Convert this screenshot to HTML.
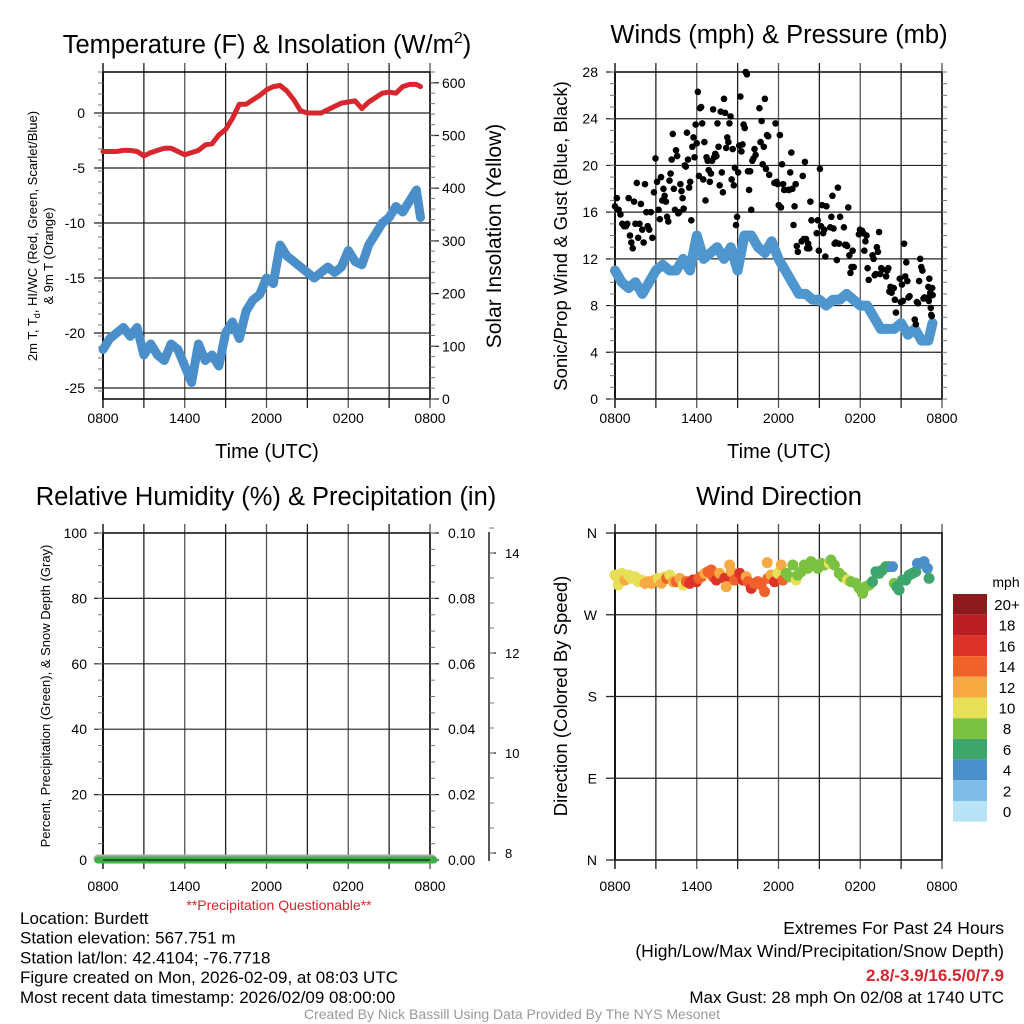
<!DOCTYPE html>
<html><head><meta charset="utf-8"><style>
body{margin:0;background:#fff}
svg{display:block;font-family:"Liberation Sans",Arial,sans-serif}
</style></head><body>
<svg id="c" width="1024" height="1024" viewBox="0 0 1024 1024" xmlns="http://www.w3.org/2000/svg"></svg>
<script>
// ---------- data ----------
const tempHours=[0,0.5,1,1.5,2,2.5,3,3.5,4,4.5,5,5.5,6,6.5,7,7.5,8,8.5,9,9.5,10,10.5,11,11.5,12,12.5,13,13.5,14,14.5,15,15.5,16,16.5,17,17.5,18,18.5,19,19.5,20,20.5,21,21.5,22,22.5,23,23.3];
const tempValues=[-3.5,-3.5,-3.5,-3.4,-3.4,-3.5,-3.9,-3.6,-3.4,-3.2,-3.2,-3.5,-3.8,-3.6,-3.4,-2.9,-2.8,-2.0,-1.5,-0.5,0.8,0.8,1.2,1.6,2.1,2.4,2.5,2.0,1.2,0.2,0,0,0,0.3,0.6,0.9,1.0,1.1,0.4,1.0,1.4,1.8,1.9,1.8,2.4,2.6,2.6,2.4];
const dewValues=[-21.5,-20.5,-20,-19.5,-20.3,-19.5,-22,-21,-22,-22.5,-21,-21.5,-23,-24.5,-21,-22.5,-22,-23,-20,-19,-20.5,-18,-17,-16.5,-15,-15.5,-12,-13,-13.5,-14,-14.5,-15,-14.5,-14,-14.5,-14,-12.5,-13.5,-13.8,-12,-11,-10,-9.5,-8.5,-9,-8,-7,-9.5];
const windHours=tempHours;
const windSpeed=[11,10,9.5,10,9,10,11,11.5,11,11,12,11,14,12,12.5,13,12,13,11,14,14,13,12.5,13.5,12,11,10,9,9,8.5,8.5,8,8.5,8.5,9,8.5,8,8,7,6,6,6,6.5,5.5,6,5,5,6.5];
const gustClusterStart=[0,0.8,1.6,2.4,3.2,4.0,4.8,5.6,6.4,7.2,8.0,8.8,9.6,10.6,11.7,12.7,13.7,14.8,15.8,16.8,17.9,18.9,19.9,20.9,22.0,23.0];
const gustClusterValues=[
[16.5,17.2,16.2,15.8,15,14.8],
[14.8,15,17.2,14,13.4,12.9,16.9,15],
[18.5,13.8,15,16.7,14.5,13.4,18.4,16],
[14.8,14.5,16,13.8,17.7,20.6,18.6],
[16.2,15.4,19,17,18,17.4,16.9,15.6,15.2],
[18.7,19.3,20.5,22.7,18,16.2,21.3,20.8,15.9,16],
[18.4,17.8,17.2,16.3,20,19.9,22.8,20.5,18.1,18.6],
[15.3,21.6,22.4,20.7,23.5,21.9,26.3,19.1,24.9,25],
[23.6,18.8,22,17,20.7,20.4,19.6,18.6,19.3,20.4],
[24.8,20.7,21,20.8,23.6,21.6,18.3,24.6,19.4,17.7],
[25.7,24.5,21.5,22.4,22,23.6,24.2,18.8,21.4,18.3],
[19.8,14.9,15.6,19.4,21.7,25.9,21.2,21.8,23.5,23.2],
[28,27.8,19.5,17.9,19.5,16.2,20.4,20.6,21.4,20.9],
[24.9,22,23.8,20.1,21.6,25.7,19.7,22.6,22.5,19.2],
[18.5,23.6,18.6,18.4,16.6,22.6,16.4,20.1,18.4,17.9],
[17.9,17.9,19.4,21.1,18.0,14.9,16.5,18.4,13.1,12.6],
[13.5,19.1,13.7,20.3,13.7,12.9,13.3,12.9,16.9,15.3],
[14.2,15.3,12.7,19.7,14.8,16.6,14.2,14.5,12.2,16.5],
[14.7,15.6,17.4,14.6,13.3,13.4,11.9,18.1,13.3,15.6],
[14.7,13.2,13.2,13.1,16.4,12.3,10.8,11.3,12.7,11.3],
[14.1,14.5,14.3,14.4,14.2,12.7,13.5,14.0,11.2,10.2],
[12.3,12.0,10.6,10.7,13.0,12.6,14.3,10.7,11.2,11.1],
[10.5,11.0,11.2,9.2,9.6,9.1,9.5,9.5,8.5,7.4],
[10.3,8.3,9.8,8.4,13.3,10.5,11.7,10.1,8.7,8.8],
[6.8,6.4,8.3,8.2,10.1,12.0,11.3,11.0,8.6,8.7],
[9.6,8.4,10.3,8.8,9.1,7.8,7.2,7.1,9.5,8.9]];
const dirHours=[0,0.12,0.24,0.49,0.73,0.98,1.22,1.46,1.71,1.95,2.2,2.44,2.68,2.93,3.17,3.41,3.66,3.78,4.02,4.27,4.51,4.76,5.0,5.24,5.49,5.73,5.98,6.15,6.34,6.59,6.83,7.07,7.2,7.44,7.68,8.05,8.17,8.41,8.54,8.78,9.15,9.39,9.63,9.76,10.0,10.24,10.49,10.73,10.98,11.22,11.17,11.46,11.71,11.95,12.2,12.32,12.56,12.8,13.05,13.29,13.41,13.66,13.9,14.15,14.39,14.63,14.88,15.12,15.37,15.73,15.85,16.1,16.46,16.71,17.07,17.32,17.68,17.93,18.17,18.41,18.66,18.9,19.15,19.39,19.63,19.88,20.12,20.37,20.49,20.68,20.85,21.1,21.34,21.59,21.83,22.07,22.2,22.44,22.68,22.93,23.05];
const dirValues=[313.7,311.9,302.7,315.6,308.2,313.7,310,311.9,306.4,308.2,304.5,306.4,304.5,308.2,310,304.5,311.9,310,313.7,306.4,306.4,310,302.7,306.4,304.5,308.2,306.4,310,311.9,315.6,317.4,319.3,311.9,308.2,315.6,310,300.9,324.8,317.4,308.2,315.6,308.2,311.9,306.4,299,304.5,306.4,302.7,295.4,310,327.4,313.7,306.4,315.6,324.8,308.2,315.6,311.9,324.8,308.2,313.7,317.4,324.8,321.1,328.5,324.8,321.1,326.6,324.8,326.6,330.3,324.8,315.6,311.9,308.2,306.4,304.5,299,293.5,300.9,302.7,306.4,317.4,315.6,319.3,323,323,323,304.5,300.9,297.2,308.2,308.2,313.7,315.6,317.4,326.6,326.6,328.5,321.1,310];
const dirSpeed=[10,10.5,10,10.5,12.5,10,11,10.5,10.5,10,12,12.5,12,12.5,10,12,10.5,14,10,12.5,15,12,10,14,16,16,17,15,14,13,14,14,15,16,13,16.5,12,12,12.5,15,16,17,13,15,16.5,14.5,15,15,15,14,12.5,13,16.5,11,12.5,14,8,9,8,10,9,8.5,8,8.5,8,8.5,8,9,8,10,8.5,8.5,9,8,10,9,8,8,8,8,8,7.5,6.5,6.5,7,6.5,6,4.5,8,6.5,6,6.5,6.5,6.5,6.5,6,5.5,5.5,5.5,4.5,6.5];
const speedBins=[0,2,4,6,8,10,12,14,16,18,20];
const speedColors=["#b9e3f7","#7fbde6","#4a8fc9","#3ea66c","#7cc242","#e6e056","#f7a942","#f0622a","#dc3328","#bb1d25","#8c1a1c"];
const binLabels=["0","2","4","6","8","10","12","14","16","18","20+"];

// ---------- helpers ----------
const svg=document.getElementById('c');
const NS='http://www.w3.org/2000/svg';
function el(tag,attrs,parent){const e=document.createElementNS(NS,tag);for(const k in attrs)e.setAttribute(k,attrs[k]);(parent||svg).appendChild(e);return e;}
function txt(x,y,s,size,anchor,parent,extra){const t=el('text',Object.assign({x:x,y:y,'font-size':size,'text-anchor':anchor||'middle',fill:'#000'},extra||{}),parent);t.textContent=s;return t;}

const X0=103,X1=430,XR0=615,XR1=942;
const TOP=72,BOT=399,TOP2=533,BOT2=860;
function hx(h,x0){return x0+h/24*327;}
const timeLabels=["0800","1400","2000","0200","0800"];

function panelFrame(x0,top,bot,name,labelsY){
  const g=el('g',{});
  
  
  for(let i=0;i<=8;i++){
    const x=x0+i*327/8;
    el('line',{x1:x,y1:top-9,x2:x,y2:bot+9,stroke:i%2?'#222':'#555','stroke-width':i==0?2:1.3},g);
  }
  el('rect',{x:x0,y:top,width:327,height:bot-top,fill:'none',stroke:'#000','stroke-width':1.5},g);
  for(let i=0;i<5;i++){
    const t=txt(x0+i*327/4,labelsY,timeLabels[i],14,'middle',g);
    
    
  }
  return g;
}
function hgrid(g,x0,ys,labels,lx){
  ys.forEach((y,i)=>{
    el('line',{x1:x0-9,y1:y,x2:x0+327,y2:y,stroke:'#222','stroke-width':1.2},g);
    if(labels){const t=txt(lx,y+5,labels[i],14,'end',g);
      
      }
  });
}
function minorTicks(g,x,y0,y1,step,dir){
  for(let y=y0;y<=y1+0.1;y+=step) el('line',{x1:x,y1:y,x2:x+dir*5,y2:y,stroke:'#777','stroke-width':1},g);
}

// ---------- Panel 1: temperature ----------
const p1=panelFrame(X0,TOP,BOT,'temperature-panel',423);
const tY=v=>113-v*11;
const tempTicks=[0,-5,-10,-15,-20,-25];
hgrid(p1,X0,tempTicks.map(tY),tempTicks.map(String),85);
minorTicks(p1,X0,TOP,BOT,11,-1);
const insTicks=[0,100,200,300,400,500,600];
const iY=v=>399-v*0.527;
insTicks.forEach(v=>{el('line',{x1:X1,y1:iY(v),x2:X1+9,y2:iY(v),stroke:'#222','stroke-width':1.2},p1);
  const t=txt(442,iY(v)+5,String(v),14,'start',p1);
  
  });
minorTicks(p1,X1,TOP,BOT,10.54,1);
let dp='';dewValues.forEach((v,i)=>{dp+=(i?'L':'M')+hx(tempHours[i],X0).toFixed(1)+','+tY(v).toFixed(1);});
const dew=el('path',{d:dp,fill:'none',stroke:'#4a8fc9','stroke-width':9,'stroke-linejoin':'round','stroke-linecap':'round'},p1);


let tp='';tempValues.forEach((v,i)=>{tp+=(i?'L':'M')+hx(tempHours[i],X0).toFixed(1)+','+tY(v).toFixed(1);});
const tl=el('path',{d:tp,fill:'none',stroke:'#d7262d','stroke-width':5,'stroke-linejoin':'round','stroke-linecap':'round'},p1);


const t1=txt(267,53,'Temperature (F) & Insolation (W/m',25.5,'middle');
const sup=el('tspan',{dy:-10,'font-size':16},t1);sup.textContent='2';
const cl=el('tspan',{dy:10},t1);cl.textContent=')';


const yt1=txt(0,0,'2m T, T',13,'middle',null,{transform:'translate(37,236) rotate(-90)'});
const sb=el('tspan',{'font-size':9,dy:3},yt1);sb.textContent='d';
const sb2=el('tspan',{dy:-3},yt1);sb2.textContent=', HI/WC (Red, Green, Scarlet/Blue)';


const yt1b=txt(0,0,'& 9m T (Orange)',13,'middle',null,{transform:'translate(53,256) rotate(-90)'});


const yr1=txt(0,0,'Solar Insolation (Yellow)',21,'middle',null,{transform:'translate(501,236) rotate(-90)'});


const xt1=txt(267,458,'Time (UTC)',20);



// ---------- Panel 2: winds ----------
const p2=panelFrame(XR0,TOP,BOT,'winds-panel',423);
const wY=v=>399-v*327/28;
const wTicks=[0,4,8,12,16,20,24,28];
hgrid(p2,XR0,wTicks.map(wY),wTicks.map(String),598);
minorTicks(p2,XR1,TOP,BOT,11.68,1);
minorTicks(p2,XR0,TOP,BOT,11.68,-1);
let wp='';windSpeed.forEach((v,i)=>{wp+=(i?'L':'M')+hx(windHours[i],XR0).toFixed(1)+','+wY(v).toFixed(1);});
const wl=el('path',{d:wp,fill:'none',stroke:'#4f96cf','stroke-width':10,'stroke-linejoin':'round','stroke-linecap':'round'},p2);


gustClusterValues.forEach((vals,ci)=>{
  const width=ci==gustClusterValues.length-1?0.35:0.8;
  vals.forEach((v,j)=>{
    const h=gustClusterStart[ci]+j/vals.length*width;
    const c=el('circle',{cx:hx(h,XR0),cy:wY(v),r:3.3,fill:'#000'},p2);
    
    
  });
});
const t2=txt(779,43,'Winds (mph) & Pressure (mb)',25.5);


const yt2=txt(0,0,'Sonic/Prop Wind & Gust (Blue, Black)',18.5,'middle',null,{transform:'translate(567,236) rotate(-90)'});


const xt2=txt(779,458,'Time (UTC)',20);



// ---------- Panel 3: RH ----------
const p3=panelFrame(X0,TOP2,BOT2,'humidity-panel',891);
const rY=v=>860-v*3.27;
const rTicks=[0,20,40,60,80,100];
hgrid(p3,X0,rTicks.map(rY),rTicks.map(String),87);
minorTicks(p3,X0,TOP2,BOT2,16.35,-1);
const pTicks=["0.00","0.02","0.04","0.06","0.08","0.10"];
pTicks.forEach((s,i)=>{const y=rY(i*20);el('line',{x1:X1,y1:y,x2:X1+9,y2:y,stroke:'#222','stroke-width':1.2},p3);
  const t=txt(448,y+5,s,14,'start',p3);
  
  });
minorTicks(p3,X1,TOP2,BOT2,16.35,1);
el('line',{x1:489,y1:532,x2:489,y2:861,stroke:'#222','stroke-width':1.5},p3);
const sY=v=>853-(v-8)*50;
[8,10,12,14].forEach(v=>{el('line',{x1:489,y1:sY(v),x2:496,y2:sY(v),stroke:'#222','stroke-width':1.2},p3);
  const t=txt(505,sY(v)+5,String(v),13,'start',p3);
  
  });
for(let v=8;v<=14.5;v+=0.5)el('line',{x1:489,y1:sY(v),x2:494,y2:sY(v),stroke:'#777'},p3);
const sl=el('line',{x1:98,y1:859,x2:432,y2:859,stroke:'#aaa','stroke-width':9,'stroke-linecap':'round'},p3);


const pl=el('line',{x1:98,y1:860,x2:434,y2:860,stroke:'#3fae49','stroke-width':7,'stroke-linecap':'round'},p3);


el('line',{x1:X0,y1:860,x2:X1,y2:860,stroke:'#000','stroke-width':1},p3);
const t3=txt(266,505,'Relative Humidity (%) & Precipitation (in)',25.5);


const yt3=txt(0,0,'Percent, Precipitation (Green), & Snow Depth (Gray)',13,'middle',null,{transform:'translate(50,696) rotate(-90)'});


const pq=txt(279,910,'**Precipitation Questionable**',14,'middle',null,{fill:'#d7262d'});



// ---------- Panel 4: direction ----------
const p4=panelFrame(XR0,TOP2,BOT2,'wind-direction-panel',891);
const dY=v=>860-v*327/360;
const dTicks=[0,90,180,270,360];const dLab=["N","E","S","W","N"];
hgrid(p4,XR0,dTicks.map(dY),dLab,597);
function spColor(s){let k=0;for(let i=0;i<speedBins.length;i++)if(s>=speedBins[i])k=i;return speedColors[k];}
dirValues.forEach((v,i)=>{
  const c=el('circle',{cx:hx(dirHours[i],XR0),cy:dY(v),r:5.5,fill:spColor(dirSpeed[i])},p4);
  
  
});
const t4=txt(779,505,'Wind Direction',25.5);


const yt4=txt(0,0,'Direction (Colored By Speed)',18.5,'middle',null,{transform:'translate(567,696) rotate(-90)'});


const cb=el('g',{});


txt(1006,587,'mph',14,'middle',cb);
for(let i=0;i<11;i++){
  const k=10-i;const y=594+i*20.7;
  el('rect',{x:953,y:y,width:34,height:20.7,fill:speedColors[k]},cb);
  const t=txt(1007,y+16,binLabels[k],15,'middle',cb);
  
  
}

// ---------- footer text ----------
const info=["Location: Burdett","Station elevation: 567.751 m","Station lat/lon: 42.4104; -76.7718","Figure created on Mon, 2026-02-09, at 08:03 UTC","Most recent data timestamp: 2026/02/09 08:00:00"];
info.forEach((s,i)=>{const t=txt(20,924+i*19.7,s,17,'start');
  
  });
const r1=txt(1004,934,'Extremes For Past 24 Hours',17.5,'end');

const r2=txt(1004,957,'(High/Low/Max Wind/Precipitation/Snow Depth)',17.5,'end');

const r3=txt(1004,981,'2.8/-3.9/16.5/0/7.9',17,'end',null,{fill:'#d7262d','font-weight':'bold'});

const r4=txt(1004,1003,'Max Gust: 28 mph On 02/08 at 1740 UTC',17,'end');

const cr=txt(512,1019,'Created By Nick Bassill Using Data Provided By The NYS Mesonet',14,'middle',null,{fill:'#999'});

</script>
</body></html>
